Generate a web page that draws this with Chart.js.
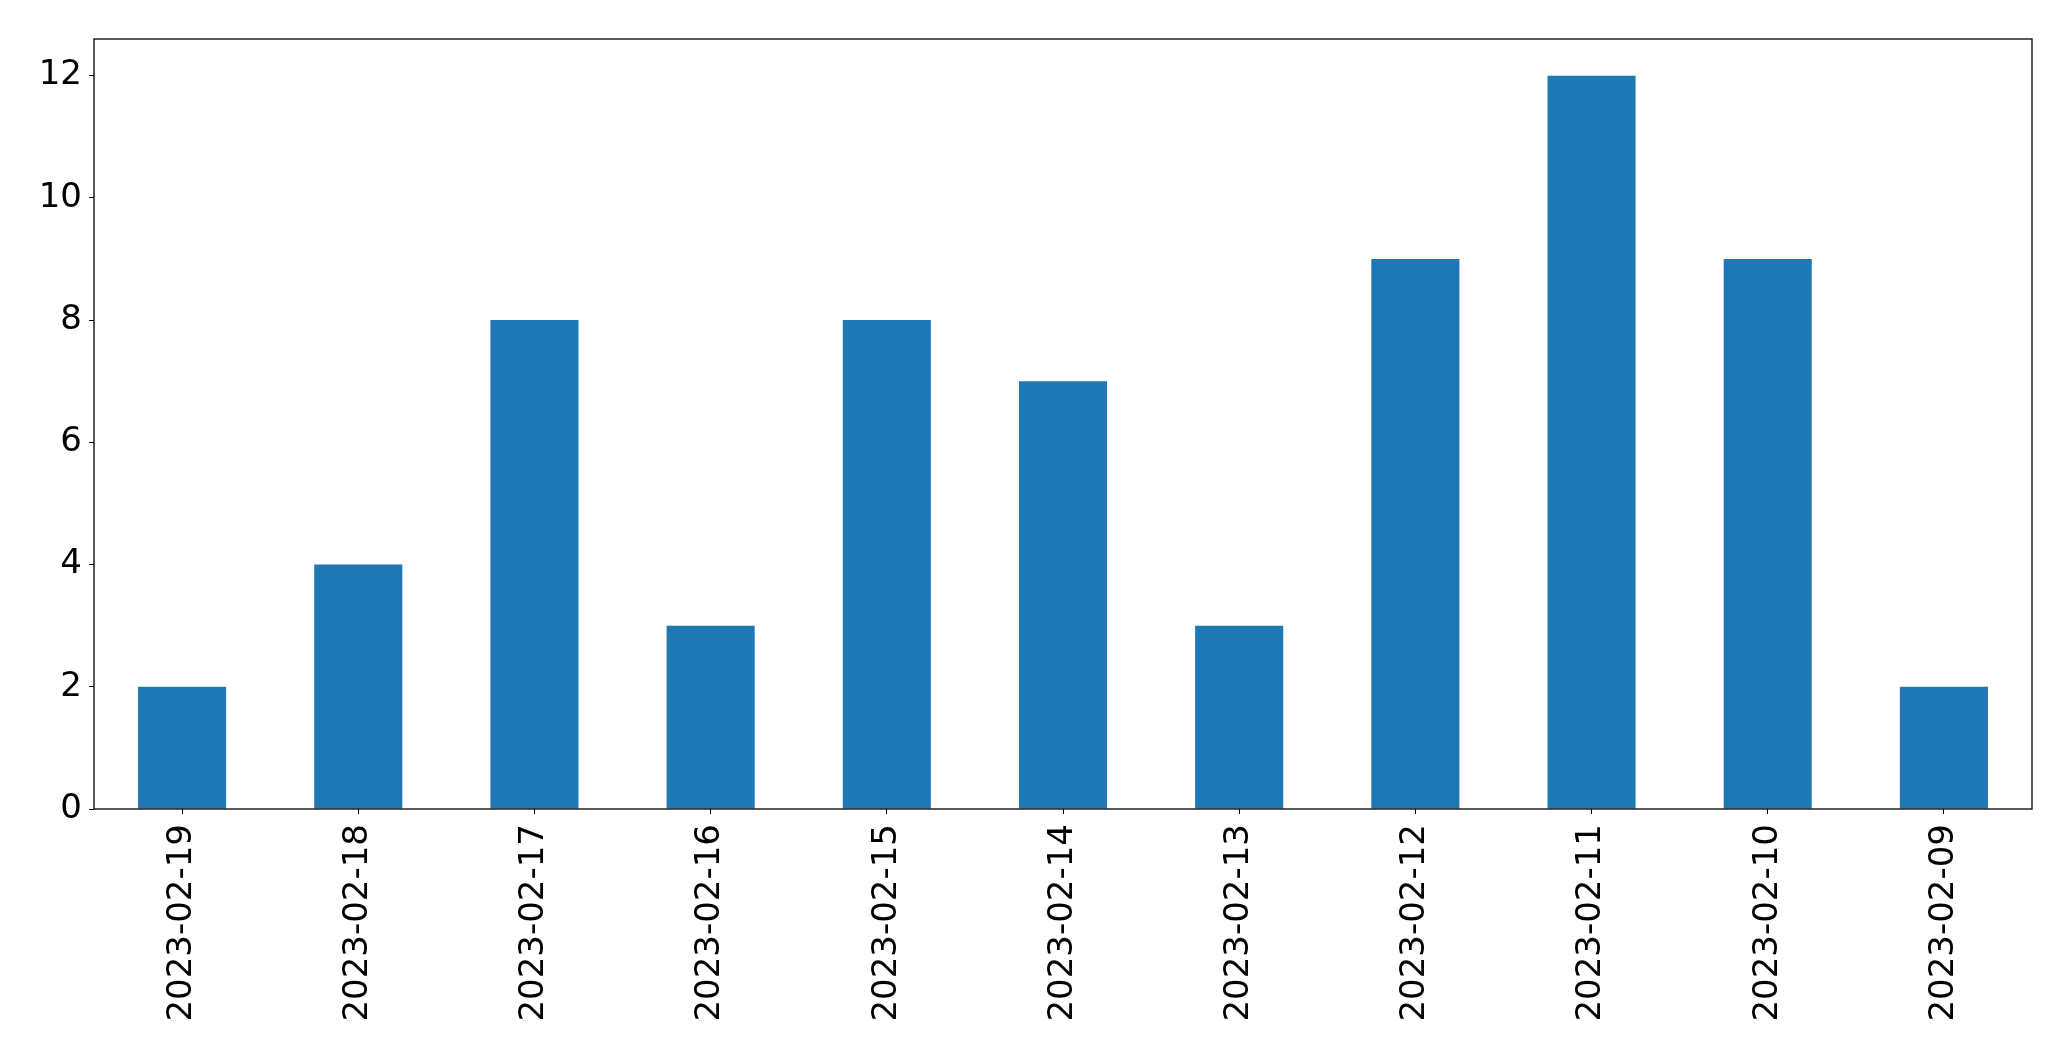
<!DOCTYPE html>
<html>
<head>
<meta charset="utf-8">
<style>
  html, body { margin: 0; padding: 0; background: #fff; }
  #wrap { width: 2071px; height: 1061px; }
</style>
<script src="https://cdn.jsdelivr.net/npm/chart.js@4/dist/chart.umd.min.js"></script>
</head>
<body>
<div id="wrap"><canvas id="chart" width="2071" height="1061"></canvas></div>
<script>
  const dates = ['2023-02-19', '2023-02-18', '2023-02-17', '2023-02-16', '2023-02-15', '2023-02-14',
                 '2023-02-13', '2023-02-12', '2023-02-11', '2023-02-10', '2023-02-09'];
  const counts = [2, 4, 8, 3, 8, 7, 3, 9, 12, 9, 2];
  const yTicks = [0, 2, 4, 6, 8, 10, 12];

  const BAR = '#1f77b4';
  const FONT = { family: 'DejaVu Sans', size: 34 };

  // axes box like matplotlib (all four sides)
  const frame = {
    id: 'frame',
    afterDraw(chart) {
      const { ctx, chartArea: a } = chart;
      ctx.save();
      ctx.strokeStyle = '#000';
      ctx.lineWidth = 1.3;
      ctx.strokeRect(a.left, a.top, a.right - a.left, a.bottom - a.top);
      ctx.restore();
    }
  };

  new Chart(document.getElementById('chart'), {
    type: 'bar',
    data: {
      labels: dates,
      datasets: [{
        data: counts,
        backgroundColor: BAR,
        borderWidth: 0,
        barPercentage: 0.5,
        categoryPercentage: 1.0
      }]
    },
    options: {
      responsive: false,
      animation: false,
      layout: { padding: { top: 39, right: 39, left: 0, bottom: 0 } },
      plugins: { legend: { display: false }, tooltip: { enabled: false } },
      scales: {
        x: {
          offset: true,
          grid: { display: true, drawOnChartArea: false, drawTicks: true, tickLength: 5, color: '#000', offset: false },
          border: { display: false },
          ticks: { color: '#000', font: FONT, minRotation: 90, maxRotation: 90, autoSkip: false, padding: 10 },
          afterFit(axis) { axis.height = 252; }
        },
        y: {
          min: 0,
          max: 12.6,
          grid: { display: true, drawOnChartArea: false, drawTicks: true, tickLength: 5, color: '#000' },
          border: { display: false },
          ticks: { color: '#000', font: FONT, padding: 7 },
          afterBuildTicks(axis) { axis.ticks = yTicks.map(v => ({ value: v })); },
          afterFit(axis) { axis.width = 94; }
        }
      }
    },
    plugins: [frame]
  });
</script>
</body>
</html>
